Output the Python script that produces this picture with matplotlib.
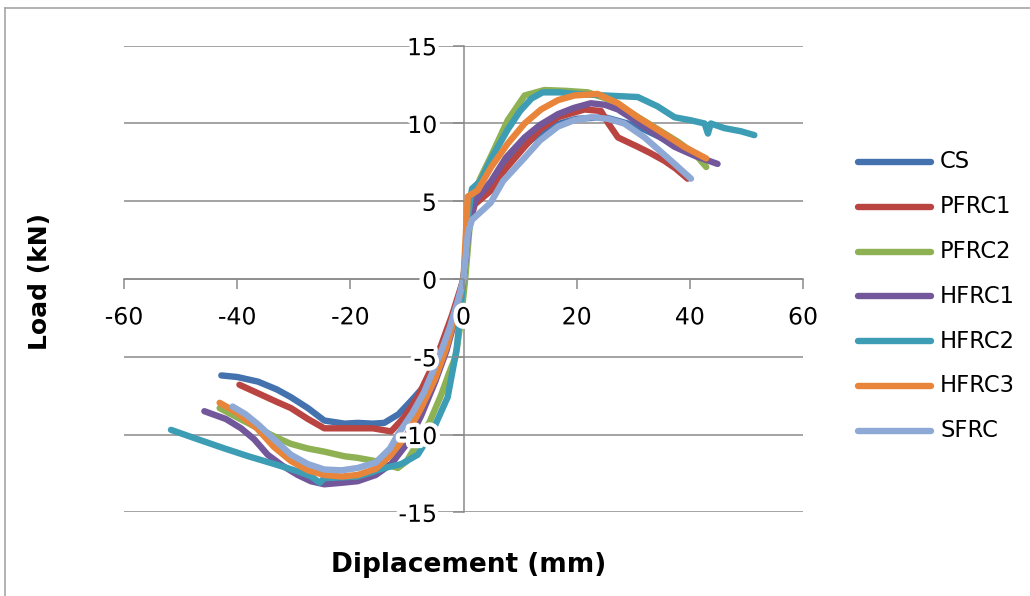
import matplotlib.pyplot as plt
import matplotlib.patheffects as pe
from matplotlib.lines import Line2D

plt.rcParams['font.family'] = ['DejaVu Sans']

# load-displacement curves (mm, kN)
cs_x = [-42.8, -40, -36.3, -33, -30.5, -27.5, -24.6, -21, -18.7, -16, -14, -11.5, -9.3, -7.2, -5, -3, -1.5, 0,
        1, 2, 4.9, 7.5, 10.8, 15, 20, 25, 29, 32, 36, 40, 42]
cs_y = [-6.2, -6.3, -6.6, -7.1, -7.6, -8.3, -9.1, -9.3, -9.25, -9.3, -9.25, -8.7, -7.85, -7.0, -5.6, -3.8, -2.0, 0,
        3.8, 5.0, 6.0, 7.4, 8.6, 9.8, 10.3, 10.4, 10.0, 9.6, 8.9, 8.2, 7.8]

pfrc1_x = [-39.6, -36, -33, -30.5, -27.5, -24.6, -21, -18.7, -16, -12.8, -10.5, -8.1, -6, -4, -2, 0,
           1, 2, 4.9, 7.5, 10.8, 13.5, 16.7, 21.4, 24.3, 25.6, 27.3, 30.8, 33, 35.5, 37.5, 39.6]
pfrc1_y = [-6.8, -7.4, -7.9, -8.3, -9.0, -9.6, -9.6, -9.6, -9.6, -9.8, -8.9, -7.6, -6.0, -4.3, -2.3, 0,
           3.5, 4.8, 5.7, 7.1, 8.5, 9.6, 10.4, 10.9, 10.8, 10.0, 9.1, 8.5, 8.1, 7.6, 7.1, 6.45]

pfrc2_x = [-43.1, -40, -36.3, -33, -30.5, -27.5, -24.6, -21, -18.7, -15.7, -13, -11.6, -10, -8.7, -6, -4, -2.5, -1.4, -0.5, 0.3,
           1, 1.8, 3, 5, 7.8, 10.8, 14.3, 18, 22, 26, 30, 34, 38, 41, 42.9]
pfrc2_y = [-8.3, -8.9, -9.6, -10.2, -10.6, -10.9, -11.1, -11.4, -11.5, -11.7, -12.0, -12.15, -11.7, -10.9, -9.2, -7.5, -6.0, -5.0, -2.8, 0,
           3.0, 5.5, 6.5, 8.0, 10.2, 11.8, 12.15, 12.1, 12.0, 11.5, 10.6, 9.7, 8.8, 8.0, 7.2]

hfrc1_x = [-45.8, -42, -39.3, -37, -34.6, -32, -29.3, -27, -24.6, -21.5, -18.7, -15.5, -12.8, -10, -7.5, -5, -3, -1.5, 0,
           1, 2, 4.9, 7.5, 10.8, 13.5, 16.7, 19.5, 22.5, 25, 27.3, 32, 37.3, 41, 44.9]
hfrc1_y = [-8.5, -9.0, -9.6, -10.3, -11.3, -12.0, -12.6, -13.0, -13.2, -13.1, -13.0, -12.6, -11.9, -10.6, -8.8, -6.6, -4.6, -2.6, 0,
           3.5, 5.0, 6.3, 7.8, 9.1, 9.9, 10.6, 11.0, 11.3, 11.2, 10.9, 9.8, 8.5, 7.9, 7.4]

hfrc2_x = [-51.7, -47, -42.2, -38, -33.4, -29, -26.9, -25.4, -24.6, -21.5, -18.7, -16, -14, -11, -8.1, -5.5, -2.8, -1.2, 0,
           0.8, 1.5, 3, 5, 7.8, 10, 12, 14, 17, 20, 25, 30.8, 34.3, 37.3, 40.2, 42.6, 43.2, 43.7, 46.1, 49, 51.4]
hfrc2_y = [-9.7, -10.3, -10.9, -11.4, -11.9, -12.4, -12.7, -13.1, -12.8, -12.75, -12.7, -12.4, -12.15, -11.9, -11.3, -9.8, -7.6, -4.5, 0,
           4.0, 5.8, 6.3, 7.8, 9.6, 10.8, 11.6, 12.0, 12.0, 11.9, 11.8, 11.7, 11.1, 10.4, 10.2, 10.0, 9.35, 10.0, 9.7, 9.5, 9.25]

hfrc3_x = [-43.1, -40, -36.5, -33.5, -30.5, -27.5, -24.6, -21.5, -18.7, -15.5, -12.8, -10, -7.5, -5, -3, -1.5, 0,
           0.76, 2.5, 4.9, 7.8, 10.8, 13.7, 16.7, 19.6, 23.7, 27.3, 30.8, 34.3, 39, 42.9]
hfrc3_y = [-7.96, -8.6, -9.6, -10.8, -11.7, -12.3, -12.6, -12.7, -12.6, -12.2, -11.3, -10.0, -8.3, -6.4, -4.4, -2.4, 0,
           5.3, 5.7, 7.2, 8.7, 10.0, 10.9, 11.5, 11.8, 11.9, 11.3, 10.4, 9.6, 8.5, 7.75]

sfrc_x = [-40.8, -38.5, -36.3, -33.5, -30.5, -27.5, -24.6, -21.5, -18.7, -15.5, -13, -11.6, -9, -7, -5.5, -4, -2.5, -1, 0,
          0.8, 1.5, 3, 4.8, 7, 10.8, 13.5, 16.7, 19.5, 22.5, 25.5, 28.4, 32, 34.5, 36.7, 40.2]
sfrc_y = [-8.2, -8.7, -9.35, -10.3, -11.3, -11.9, -12.25, -12.3, -12.15, -11.8, -10.9, -10.0, -8.6, -7.3, -6.0, -4.7, -3.2, -1.4, 0,
          3.0, 3.8, 4.3, 4.9, 6.3, 7.8, 8.9, 9.8, 10.2, 10.4, 10.3, 10.0, 9.1, 8.3, 7.6, 6.45]

names = ["CS", "PFRC1", "PFRC2", "HFRC1", "HFRC2", "HFRC3", "SFRC"]
xs = [cs_x, pfrc1_x, pfrc2_x, hfrc1_x, hfrc2_x, hfrc3_x, sfrc_x]
ys = [cs_y, pfrc1_y, pfrc2_y, hfrc1_y, hfrc2_y, hfrc3_y, sfrc_y]
colors = ["#4472AE", "#B94441", "#8DB153", "#72579A", "#3C9DB5", "#E8853A", "#8EA9D6"]

y_ticks = [-15, -10, -5, 0, 5, 10, 15]
x_ticks = [-60, -40, -20, 0, 20, 40, 60]

W, H = 1030, 596
grey = "#8a8a8a"

fig = plt.figure(figsize=(W / 100, H / 100), dpi=100)
# outer chart border (only top and left edges are inside the picture)
fig.lines.append(Line2D([5 / W, 1.0], [1 - 8 / H, 1 - 8 / H], transform=fig.transFigure,
                        color="#a6a6a6", linewidth=1.2))
fig.lines.append(Line2D([5 / W, 5 / W], [0.0, 1 - 8 / H], transform=fig.transFigure,
                        color="#a6a6a6", linewidth=1.2))

ax = fig.add_axes([124 / W, 1 - 512.3 / H, (803 - 124) / W, (512.3 - 45.7) / H])
ax.set_xlim(-60, 60)
ax.set_ylim(-15, 15)
ax.patch.set_visible(False)
ax.set_axisbelow(False)

for yv in y_ticks:
    ax.axhline(yv, color=grey, linewidth=1.1, zorder=1)

for i, (x, y) in enumerate(zip(xs, ys)):
    ax.plot(x, y, color=colors[i], linewidth=4.6, solid_capstyle="round",
            solid_joinstyle="round", zorder=2 + i * 0.01)

ax.spines["top"].set_visible(False)
ax.spines["right"].set_visible(False)
ax.spines["left"].set_position(("data", 0))
ax.spines["bottom"].set_position(("data", 0))
for s in ("left", "bottom"):
    ax.spines[s].set_color(grey)
    ax.spines[s].set_linewidth(1.1)
    ax.spines[s].set_zorder(1.5)

ax.set_xticks(x_ticks)
ax.set_yticks(y_ticks)
ax.tick_params(axis="x", direction="out", length=7, width=1.1, color=grey,
               labelsize=17, pad=12)
ax.tick_params(axis="y", direction="out", length=8, width=1.1, color=grey,
               labelsize=17, pad=11)
ax.set_xticklabels([str(v) for v in x_ticks])
ax.set_yticklabels([str(v) for v in y_ticks])
halo = [pe.withStroke(linewidth=6, foreground="white")]
for lab in ax.get_yticklabels() + ax.get_xticklabels():
    lab.set_path_effects(halo)

fig.text(40 / W, 1 - 281 / H, "Load (kN)", rotation=90, ha="center", va="center",
         fontsize=18, fontweight="bold")
fig.text(469 / W, 1 - 565 / H, "Diplacement (mm)", ha="center", va="center",
         fontsize=19, fontweight="bold")

# legend on the right
for i, name in enumerate(names):
    yp = 1 - (162 + i * 44.8) / H
    fig.lines.append(Line2D([858 / W, 931 / W], [yp, yp], transform=fig.transFigure,
                            color=colors[i], linewidth=4.6, solid_capstyle="round"))
    fig.text(940 / W, yp, name, ha="left", va="center", fontsize=16.3)

fig.savefig("out.png", dpi=100)
